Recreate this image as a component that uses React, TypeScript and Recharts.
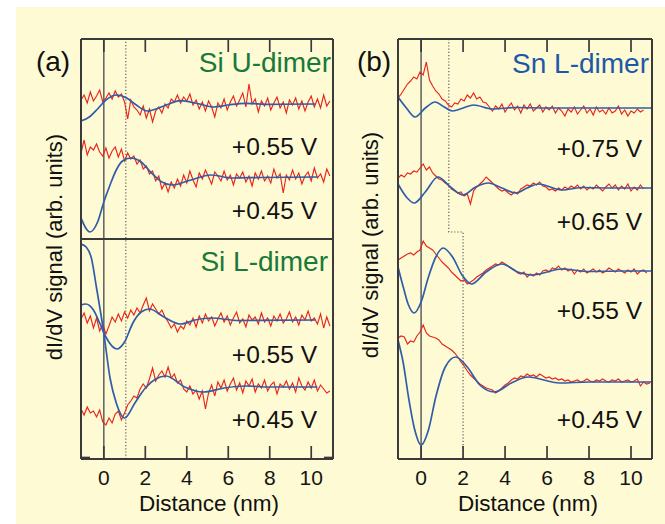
import { LineChart, Line, XAxis, YAxis, ReferenceLine } from "recharts";

const FONT = '"Liberation Sans", Arial, Helvetica, sans-serif';
const RED = "#E8251B";
const BLUE = "#2F5DAA";
const FRAME = "#3A3A3A";
const ZERO_LINE = "#5E5E5E";
const BG = "#FEFAD3";

// ── Data ─────────────────────────────────────────────────────────────────────

const DIST_TICKS = [0, 2, 4, 6, 8, 10];

// raw traces are sampled every 0.15 nm starting at -1.1 nm
const RAW_X0 = -1.1;
const RAW_STEP = 0.15;

// vertical offset of each trace (arb. units, plot range 0..420)
const Y_MAX = 420;
const OFFSET_U55 = 355;
const OFFSET_U45 = 282;
const OFFSET_L55 = 139;
const OFFSET_L45 = 72;
const OFFSET_S75 = 351;
const OFFSET_S65 = 271;
const OFFSET_S55 = 188;
const OFFSET_S45 = 77;
const DIVIDER_A = 220;
const CORNER_TICK_A = 1.5;

// (a) Si U-dimer, +0.55 V
const U55_RAW = [4, 9, 1, 12, 3, 8, 14, 2, 6, 11, 5, 13, 7, 10, 2, -15, 4, -3, -6, -11, -2, -14, -5, -18, -7, -3, -9, 0, -4, 5, 2, 9, 1, 7, 3, 10, -1, 4, -5, 2, -7, 3, -3, -13, 1, -4, 5, -6, 2, 8, -2, 4, 11, -3, 20, 0, 5, -8, 3, -2, 6, -6, 1, 7, -4, 2, -9, 4, -1, 6, -5, 3, -7, 2, 8, -3, 5, -4, 9, -2, 3];
const U55_FIT_X = [-1.1, -0.7, -0.3, 0.1, 0.63, 1.1, 1.5, 2.1, 2.9, 3.7, 4.5, 5.3, 6.0, 6.8, 8.0, 10.2];
const U55_FIT = [-17, -13, -5, 4, 9, 6, 0, -7, -2, 3.3, 0.5, -3, -1, 0.7, -0.3, 0];

// (a) Si U-dimer, +0.45 V
const U45_RAW = [24, 37, 22, 30, 27, 33, 25, 21, 29, 19, 26, 30, 20, 28, 16, 24, 18, 21, 13, 17, 8, 11, 3, 6, -4, 1, -12, -6, -15, -5, -11, -2, -9, 2, -6, 6, -3, -10, 4, -2, 7, 0, -7, 5, 1, -4, 6, -3, 2, -8, 3, -1, 5, -5, 1, -9, 4, -2, 6, -4, 1, -6, 8, -1, 3, -16, 2, -3, 7, -2, 4, -7, 1, 5, -4, 9, -1, 3, -5, 8, 1];
const U45_FIT_X = [-1.1, -0.67, -0.3, 0, 0.3, 0.6, 0.9, 1.3, 1.8, 2.3, 2.8, 3.3, 4.2, 5.15, 6.2, 7.5, 10.3];
const U45_FIT = [-41, -55, -45, -25, -8, 7, 16, 19, 15, 4, -5, -8, -3, 2, -1, -0.5, 0];

// (a) Si L-dimer, +0.55 V
const L55_RAW = [1, 7, -3, 4, -8, 2, -11, -4, -14, -6, 3, -2, 6, -1, 8, 2, 10, 5, 12, 7, 15, 22, 9, 16, 11, 6, 10, 3, -2, -8, -4, -12, -6, -9, -1, -5, 2, -7, 4, -3, 6, -1, 3, -6, 1, 7, -2, 4, -5, 2, 8, -3, 1, -7, 5, 0, 3, -4, 7, -2, 2, -6, 4, -1, 6, -3, 1, 8, -2, 3, -5, 5, 0, 9, -1, 2, -4, 6, -8, 3, -6];
const L55_FIT_X = [-1.1, -0.87, -0.5, -0.2, 0.1, 0.63, 1.0, 1.4, 1.8, 2.2, 2.9, 3.7, 4.4, 5.2, 6.5, 10.2];
const L55_FIT = [15, 16, 10, -3, -17, -29, -22, -3, 8, 11, 3, -4, 0, 2, -0.5, 0];

// (a) Si L-dimer, +0.45 V
const L45_RAW = [-22, -28, -20, -26, -24, -30, -23, -35, -38, -31, -36, -27, -24, -33, -26, -18, -14, -9, -11, -2, 3, -1, 8, 19, 6, 12, 16, 10, 20, 9, 13, 4, 7, -2, -5, 1, -7, -3, -12, -4, -22, -6, 2, -9, 5, -1, 7, -4, 3, 9, -3, 4, -6, 6, 1, 8, -5, 3, -1, 7, -4, 2, 5, -7, 3, 0, 6, -2, 4, -5, 9, 1, -3, 5, -1, 7, -4, 2, -2, -6, -4];
const L45_FIT_X = [-1.1, -0.85, -0.6, -0.35, 0, 0.3, 0.6, 1.0, 1.5, 2.0, 2.5, 3.0, 3.9, 4.8, 5.8, 6.8, 8.0, 10.3];
const L45_FIT = [143, 140, 129, 99, 54, 9, -16, -31, -16, -1, 8, 11, 0, -5, -1, 1, 0, 0];

// (b) Sn L-dimer, +0.75 V
const S75_RAW = [10, 14, 19, 24, 27, 31, 29, 36, 33, 46, 28, 22, 17, 14, 9, 7, 3, 1, 5, 4, 9, 7, 13, 10, 15, 9, 11, 6, 5, 1, -3, 2, -1, 4, -4, 1, 5, -2, 2, -5, 3, -1, 4, -3, 0, 3, -4, 1, -2, 2, -5, 0, -3, -8, -1, -4, 1, -6, -2, 2, -5, -1, -7, 1, -4, -2, -6, 0, -5, -3, 2, -6, -2, -8, -3, -5, -1, -4, -2];
const S75_FIT_X = [-1.1, -0.7, -0.29, 0.2, 0.67, 1.1, 1.5, 2.0, 2.5, 3.4, 4.5, 6.0, 11.0];
const S75_FIT = [11, 0, -9, 0, 6, 1, -3, 0, 3, -1, 0.5, 0, 0];

// (b) Sn L-dimer, +0.65 V
const S65_RAW = [10, 13, 11, 15, 14, 17, 16, 20, 24, 18, 21, 15, 12, 9, 8, 5, 3, -1, -3, -5, -4, -8, -6, -16, -3, 1, 4, 7, 11, 8, 5, 2, -1, -3, -2, -5, -7, -4, -6, -1, 1, 3, 2, 5, 3, 6, 2, 1, -2, -1, -3, 0, -2, 1, -1, 2, 0, 3, -1, 2, -2, 1, -1, 3, 0, -3, 1, 4, 0, 3, -2, 2, -1, 4, -3, 1, -2, 3, -1];
const S65_FIT_X = [-1.1, -0.7, -0.33, 0.2, 0.8, 1.4, 2.0, 2.6, 3.2, 3.85, 4.5, 5.05, 5.6, 6.7, 7.7, 9.0, 11.0];
const S65_FIT = [4, -9, -15, -4, 11, 1, -7, 1, 5, 0, -5, 0, 4, -2, 0.5, 0, 0];

// (b) Sn L-dimer, +0.55 V
const S55_RAW = [11, 13, 15, 17, 18, 16, 19, 21, 30, 25, 23, 21, 17, 13, 9, 6, 3, -1, -4, -7, -10, -9, -13, -11, -9, -6, -4, -2, 1, 3, 5, 7, 6, 9, 7, 5, 3, 1, -2, -3, -1, -6, -3, -5, -2, -4, 0, 1, -1, 3, 2, 5, 1, 3, 0, 2, -3, 1, -1, 2, -2, 0, 2, -1, 1, -2, 0, 3, 1, -1, 2, 0, -2, 1, -1, 2, -3, 0, 1, -2];
const S55_FIT_X = [-1.1, -0.85, -0.6, -0.33, 0, 0.35, 0.7, 1.05, 1.5, 1.95, 2.4, 3.1, 3.85, 4.6, 5.3, 6.7, 8.0, 9.5, 11.0];
const S55_FIT = [4, -16, -34, -42, -31, -6, 14, 23, 14, -4, -13, -1, 7, -1, -4, 2, -0.5, 0, 0];

// (b) Sn L-dimer, +0.45 V
const S45_RAW = [44, 46, 45, 38, 41, 40, 46, 50, 57, 49, 46, 45, 44, 42, 38, 36, 34, 32, 29, 25, 20, 16, 11, 7, 4, 1, -2, -4, -6, -7, -8, -11, -9, -6, -3, -1, 2, 4, 3, 6, 5, 8, 6, 7, 5, 8, 6, 4, 5, 3, 4, 2, 3, 1, 2, 0, 1, 2, 0, 1, 3, 1, 0, 2, 1, 3, 1, 0, 2, 1, 3, 0, 1, 2, 0, 1, 3, -4, 0, -2, -1];
const S45_FIT_X = [-1.1, -0.85, -0.6, -0.3, 0, 0.35, 0.7, 1.15, 1.65, 2.2, 2.8, 3.5, 4.3, 5.1, 6.6, 8.0, 11.0];
const S45_FIT = [42, 19, -15, -48, -63, -48, -15, 15, 25, 15, -3, -10, -1, 5, -1, 0, 0];

// dotted guide in (b): x positions and levels
const GUIDE_B_X = [1.32, 1.32, 2.0, 2.0];
const GUIDE_B_Y = [420, 227, 227, 0];

// ── Helpers ──────────────────────────────────────────────────────────────────

const raw = (vals: number[], base: number) =>
  vals.map((v, i) => ({ x: +(RAW_X0 + i * RAW_STEP).toFixed(2), y: base + v }));
const fit = (xs: number[], vals: number[], base: number) =>
  xs.map((x, i) => ({ x, y: base + vals[i] }));

const TOP = 39;
const BOTTOM = 459;
const CH = 524;
const TICK_LEN = 13;

function makeBottomLabel(bottom: number) {
  return (p: any) => (
    <text x={p.x} y={bottom + 26} textAnchor="middle" fontSize={21} fill="#151515" fontFamily={FONT}>
      {p.payload.value}
    </text>
  );
}

function Txt({ children, left, right, top, size, color = "#111", width, align }: any) {
  return (
    <div style={{
      position: "absolute", left, right, top, width, textAlign: align,
      fontSize: size, lineHeight: `${size}px`, color, fontFamily: FONT, whiteSpace: "nowrap",
    }}>{children}</div>
  );
}

function PanelChart({ left, width, plotLeft, plotRight, domain, series, dotted, guide, divider, sideTick }: any) {
  // mirrored axes take no room, so the margins are the frame itself
  const margin = {
    top: TOP, bottom: CH - BOTTOM,
    left: plotLeft - left, right: left + width - plotRight,
  };
  const frame = { stroke: FRAME, strokeWidth: 2 };
  const tl = { stroke: FRAME, strokeWidth: 1.7 };
  const ax = { xAxisId: "b", yAxisId: "l" };
  const hasSide = sideTick !== undefined;

  return (
    <div style={{ position: "absolute", left, top: 0 }}>
      <LineChart width={width} height={CH} margin={margin}>
        {/* mirrored axes put the tick marks inside the frame */}
        <XAxis xAxisId="b" type="number" dataKey="x" domain={domain} allowDataOverflow ticks={DIST_TICKS}
          height={20} mirror tickSize={TICK_LEN} axisLine={frame} tickLine={tl}
          tick={makeBottomLabel(BOTTOM)} interval={0} />
        <XAxis xAxisId="t" orientation="top" type="number" dataKey="x" domain={domain} allowDataOverflow
          ticks={DIST_TICKS} height={20} mirror tickSize={TICK_LEN} axisLine={frame} tickLine={tl}
          tick={() => <g />} interval={0} />
        <YAxis yAxisId="l" type="number" domain={[0, Y_MAX]} allowDataOverflow width={10} axisLine={frame}
          ticks={hasSide ? [sideTick] : []} mirror tickSize={9} tickLine={hasSide ? tl : false}
          tick={() => <g />} />
        <YAxis yAxisId="r" orientation="right" type="number" domain={[0, Y_MAX]} allowDataOverflow width={10}
          axisLine={frame} ticks={hasSide ? [sideTick] : []} mirror tickSize={9}
          tickLine={hasSide ? tl : false} tick={() => <g />} />

        <ReferenceLine {...ax} x={0} stroke={ZERO_LINE} strokeWidth={1.5} />
        {dotted !== undefined && (
          <ReferenceLine {...ax} x={dotted} stroke={ZERO_LINE} strokeWidth={1.2} strokeDasharray="1.2 2" />
        )}
        {divider !== undefined && (
          <ReferenceLine {...ax} y={divider} stroke={FRAME} strokeWidth={2} />
        )}
        {guide && (
          <Line {...ax} data={guide} dataKey="y" type="linear" stroke={ZERO_LINE}
            strokeWidth={1.2} strokeDasharray="1.2 2" dot={false} isAnimationActive={false} />
        )}
        {series.map((s: any, i: number) => (
          <Line key={"r" + i} {...ax} data={s.r} dataKey="y" type="linear" stroke={RED}
            strokeWidth={1.15} dot={false} isAnimationActive={false} />
        ))}
        {series.map((s: any, i: number) => (
          <Line key={"b" + i} {...ax} data={s.b} dataKey="y" type="monotone" stroke={BLUE}
            strokeWidth={1.7} dot={false} isAnimationActive={false} />
        ))}
      </LineChart>
    </div>
  );
}

export default function App() {
  const seriesA = [
    { r: raw(U55_RAW, OFFSET_U55), b: fit(U55_FIT_X, U55_FIT, OFFSET_U55) },
    { r: raw(U45_RAW, OFFSET_U45), b: fit(U45_FIT_X, U45_FIT, OFFSET_U45) },
    { r: raw(L55_RAW, OFFSET_L55), b: fit(L55_FIT_X, L55_FIT, OFFSET_L55) },
    { r: raw(L45_RAW, OFFSET_L45), b: fit(L45_FIT_X, L45_FIT, OFFSET_L45) },
  ];
  const seriesB = [
    { r: raw(S75_RAW, OFFSET_S75), b: fit(S75_FIT_X, S75_FIT, OFFSET_S75) },
    { r: raw(S65_RAW, OFFSET_S65), b: fit(S65_FIT_X, S65_FIT, OFFSET_S65) },
    { r: raw(S55_RAW, OFFSET_S55), b: fit(S55_FIT_X, S55_FIT, OFFSET_S55) },
    { r: raw(S45_RAW, OFFSET_S45), b: fit(S45_FIT_X, S45_FIT, OFFSET_S45) },
  ];
  const guide = GUIDE_B_X.map((x, i) => ({ x, y: GUIDE_B_Y[i] }));

  return (
    <div style={{ position: "absolute", left: 0, top: 0, width: 665, height: CH, background: "#fff", overflow: "hidden" }}>
      <div style={{ position: "absolute", left: 16, top: 7, right: 0, bottom: 0, background: BG }} />

      <PanelChart left={0} width={345} plotLeft={81} plotRight={333} domain={[-1.1, 11.05]}
        series={seriesA} dotted={1.06} divider={DIVIDER_A} sideTick={CORNER_TICK_A} />
      <PanelChart left={340} width={325} plotLeft={398} plotRight={652} domain={[-1.1, 11.0]}
        series={seriesB} guide={guide} />

      {/* panel letters and titles */}
      <Txt left={23} width={60} align="center" top={48} size={28}>(a)</Txt>
      <Txt left={344} width={60} align="center" top={48} size={28}>(b)</Txt>
      <Txt right={665 - 331} top={49} size={28} color="#18793A">Si U-dimer</Txt>
      <Txt right={665 - 328} top={248} size={28} color="#18793A">Si L-dimer</Txt>
      <Txt right={665 - 649} top={50} size={28} color="#1E58A8">Sn L-dimer</Txt>

      {/* bias labels */}
      <Txt right={665 - 317} top={134.5} size={24.5}>+0.55 V</Txt>
      <Txt right={665 - 317} top={199} size={24.5}>+0.45 V</Txt>
      <Txt right={665 - 317} top={342.5} size={24.5}>+0.55 V</Txt>
      <Txt right={665 - 317} top={407.5} size={24.5}>+0.45 V</Txt>
      <Txt right={665 - 642} top={136.5} size={24.5}>+0.75 V</Txt>
      <Txt right={665 - 642} top={209.5} size={24.5}>+0.65 V</Txt>
      <Txt right={665 - 642} top={298.5} size={24.5}>+0.55 V</Txt>
      <Txt right={665 - 642} top={407.5} size={24.5}>+0.45 V</Txt>

      {/* axis titles */}
      <Txt left={209 - 100} width={200} align="center" top={493} size={22.5}>Distance (nm)</Txt>
      <Txt left={528 - 100} width={200} align="center" top={493} size={22.5}>Distance (nm)</Txt>
      <div style={{
        position: "absolute", left: 55.4 - 150, top: 247 - 11, width: 300, textAlign: "center",
        fontSize: 22, lineHeight: "22px", fontFamily: FONT, color: "#111", transform: "rotate(-90deg)",
      }}>dI/dV signal (arb. units)</div>
      <div style={{
        position: "absolute", left: 371.4 - 150, top: 245 - 11, width: 300, textAlign: "center",
        fontSize: 22, lineHeight: "22px", fontFamily: FONT, color: "#111", transform: "rotate(-90deg)",
      }}>dI/dV signal (arb. units)</div>
    </div>
  );
}
